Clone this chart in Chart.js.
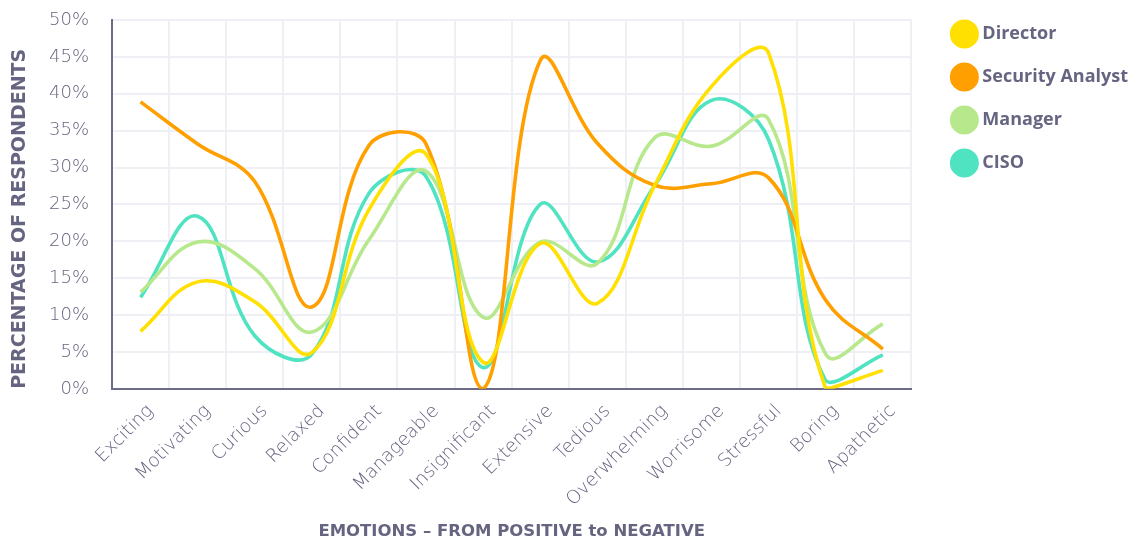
<!DOCTYPE html>
<html>
<head>
<meta charset="utf-8">
<script src="https://cdn.jsdelivr.net/npm/chart.js@4"></script>
<style>
html,body{margin:0;padding:0;background:#fff;}
#wrap{width:1144px;height:542px;position:relative;}
</style>
</head>
<body>
<div id="wrap"><canvas id="c"></canvas></div>
<script>
const categories = ["Exciting","Motivating","Curious","Relaxed","Confident","Manageable","Insignificant","Extensive","Tedious","Overwhelming","Worrisome","Stressful","Boring","Apathetic"];
const director = [7.8, 14.5, 11.8, 4.9, 24.3, 31.8, 3.6, 19.7, 11.6, 27.5, 41, 45.5, 0, 2.5];
const securityAnalyst = [38.9, 33.2, 28.1, 11.1, 33, 33.2, 0, 44.5, 33.3, 27.6, 27.8, 28.6, 12, 5.4];
const manager = [13.1, 19.9, 16.3, 7.7, 20.2, 29.5, 9.7, 19.9, 17, 34, 32.9, 36.5, 4.7, 8.8];
const ciso = [12.4, 23.4, 7.2, 4.7, 26.5, 28.8, 2.9, 25, 17.2, 27.5, 39.1, 33.8, 1.1, 4.6];
const seriesNames = ["Director","Security Analyst","Manager","CISO"];
const yTicks = [0,5,10,15,20,25,30,35,40,45,50];

const colors = ["#FFE000","#FF9F00","#B7E88C","#50E3C2"];
const textColor = "#666581";
const tickFam = "'DejaVu Sans', sans-serif";
const boldFam = "'DejaVu Sans', sans-serif";

const mk = (label, data, color) => ({
  label, data, borderColor: color, backgroundColor: color,
  borderWidth: 3.6, pointRadius: 0, pointHoverRadius: 0, tension: 0.4, fill: false
});

const legendShift = {
  id: 'legendShift',
  afterLayout(chart) {
    const lg = chart.legend;
    if (lg) {
      const d = lg.top; lg.top -= d; lg.bottom -= d;
      lg.left += 19; lg.right += 19;
    }
  }
};

new Chart(document.getElementById('c'), {
  type: 'line',
  data: {
    labels: categories,
    datasets: [
      mk(seriesNames[0], director, colors[0]),
      mk(seriesNames[1], securityAnalyst, colors[1]),
      mk(seriesNames[2], manager, colors[2]),
      mk(seriesNames[3], ciso, colors[3])
    ]
  },
  plugins: [legendShift],
  options: {
    responsive: true,
    maintainAspectRatio: false,
    animation: false,
    layout: { padding: { top: 20, right: 25, left: 7, bottom: 0 } },
    plugins: {
      tooltip: { enabled: false },
      legend: {
        position: 'right',
        align: 'start',
        labels: {
          usePointStyle: true,
          pointStyle: 'circle',
          boxWidth: 20,
          boxHeight: 20,
          padding: 25,
          color: textColor,
          font: { family: "'Open Sans', sans-serif", size: 18, weight: 'bold' }
        }
      }
    },
    scales: {
      x: {
        offset: true,
        afterFit: (s) => {
          s.paddingLeft = 0; s.paddingRight = 0;
          if (s._margins) { s._margins.left = 0; s._margins.right = 0; }
        },
        grid: { offset: true, color: '#efeff6', lineWidth: 2, drawTicks: false },
        border: { color: '#6d6c88', width: 2 },
        ticks: {
          color: textColor, maxRotation: 45, minRotation: 45, padding: 11.5, labelOffset: 10,
          font: { family: tickFam, size: 18.5, weight: '200' }
        },
        title: {
          display: true, text: 'EMOTIONS – FROM POSITIVE to NEGATIVE',
          color: textColor, font: { family: boldFam, size: 16.5, weight: 'bold' }, padding: { top: 0, bottom: 0 }
        }
      },
      y: {
        min: 0, max: 50,
        afterFit: (s) => { s.paddingTop = 0; s.paddingBottom = 0; s.width = 105; },
        afterBuildTicks: (s) => { s.ticks = yTicks.map(v => ({ value: v })); },
        grid: { color: '#efeff6', lineWidth: 2, drawTicks: false },
        border: { color: '#6d6c88', width: 2 },
        ticks: {
          color: textColor, padding: 23,
          callback: (v) => v + '%',
          font: { family: tickFam, size: 18, weight: '200' }
        },
        title: {
          display: true, text: 'PERCENTAGE OF RESPONDENTS', align: 'start',
          color: textColor, font: { family: boldFam, size: 19, weight: 'bold' }, padding: { top: 2, bottom: 18 }
        }
      }
    }
  }
});
</script>
</body>
</html>
